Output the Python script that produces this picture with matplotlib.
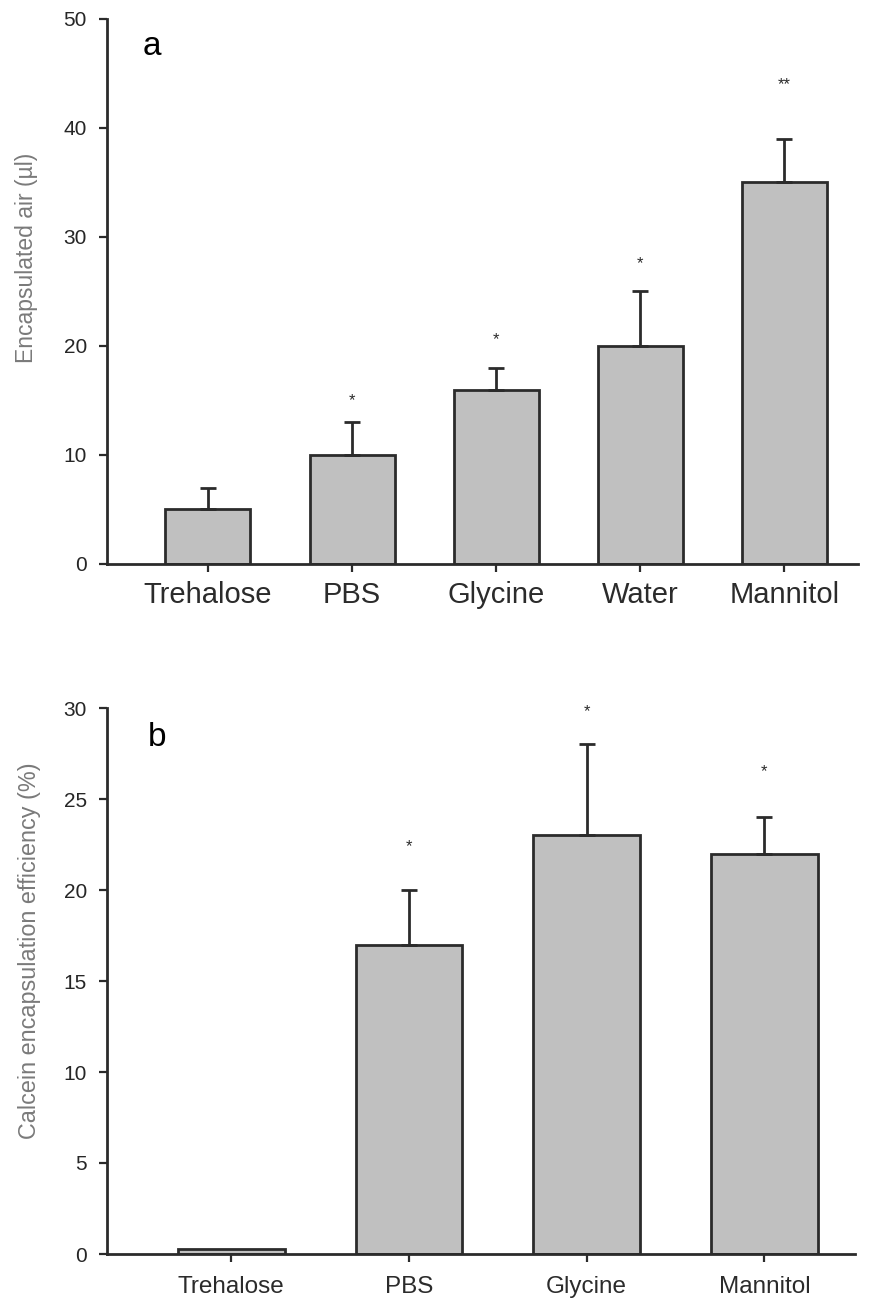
import numpy as np
import matplotlib
matplotlib.use('Agg')
import matplotlib.pyplot as plt

plt.rcParams['font.family'] = ['Liberation Sans', 'DejaVu Sans']

# panel a
cats_a = ['Trehalose', 'PBS', 'Glycine', 'Water', 'Mannitol']
vals_a = [5, 10, 16, 20, 35]
err_a = [2, 3, 2, 5, 4]
stars_a = ['', '*', '*', '*', '**']
star_y_a = [0, 15.0, 20.6, 27.6, 44.0]

# panel b
cats_b = ['Trehalose', 'PBS', 'Glycine', 'Mannitol']
vals_b = [0.3, 17, 23, 22]
err_b = [0, 3, 5, 2]
stars_b = ['', '*', '*', '*']
star_y_b = [0, 22.4, 29.8, 26.5]

ink = '#2b2b2b'
bar_fc = '#c0c0c0'

fig = plt.figure(figsize=(8.79, 13), dpi=100, facecolor='white')


def style_axes(ax):
    for s in ['top', 'right']:
        ax.spines[s].set_visible(False)
    for s in ['left', 'bottom']:
        ax.spines[s].set_linewidth(2)
        ax.spines[s].set_color(ink)
    ax.tick_params(axis='both', direction='out', length=6, width=1.6, color=ink)
    ax.tick_params(axis='y', labelsize=15, labelcolor='#262626', pad=8.5)


def draw_panel(ax, cats, vals, errs, stars, star_y, width):
    x = np.arange(len(cats))
    ax.bar(x, vals, width=width, color=bar_fc, edgecolor=ink, linewidth=2, zorder=2)
    for xi, v, e in zip(x, vals, errs):
        if e > 0:
            ax.errorbar(xi, v, yerr=[[0], [e]], fmt='none', ecolor=ink,
                        elinewidth=2, capsize=6, capthick=2, zorder=3)
    for xi, s, sy in zip(x, stars, star_y):
        if s:
            ax.text(xi, sy, s, ha='center', va='center', fontsize=12, color=ink)
    ax.set_xticks(x)
    style_axes(ax)


# top panel
ax1 = fig.add_axes([107 / 879, 1 - 564 / 1300, 751 / 879, 545 / 1300])
draw_panel(ax1, cats_a, vals_a, err_a, stars_a, star_y_a, 0.59)
ax1.set_xlim(-0.70, 4.51)
ax1.set_ylim(0, 50)
ax1.set_yticks([0, 10, 20, 30, 40, 50])
ax1.set_xticklabels(cats_a, fontsize=21, color=ink)
ax1.tick_params(axis='x', pad=6)
fig.text(27 / 879, 1 - 258 / 1300, 'Encapsulated air (\u00b5l)', rotation=90,
         ha='center', va='center', fontsize=16.5, color='#7a7a7a')
ax1.text(0.047, 47.5, 'a', transform=ax1.get_yaxis_transform(), fontsize=24,
         color='black', va='center')

# bottom panel
ax2 = fig.add_axes([107 / 879, 1 - 1254 / 1300, 748 / 879, 546 / 1300])
draw_panel(ax2, cats_b, vals_b, err_b, stars_b, star_y_b, 0.60)
ax2.set_xlim(-0.70, 3.51)
ax2.set_ylim(0, 30)
ax2.set_yticks([0, 5, 10, 15, 20, 25, 30])
ax2.set_xticklabels(cats_b, fontsize=17.5, color=ink)
ax2.tick_params(axis='x', pad=9.5)
fig.text(30 / 879, 1 - 951 / 1300, 'Calcein encapsulation efficiency (%)', rotation=90,
         ha='center', va='center', fontsize=16.8, color='#7a7a7a')
ax2.text(0.055, 28.4, 'b', transform=ax2.get_yaxis_transform(), fontsize=24,
         color='black', va='center')

fig.savefig('out.png', dpi=100, facecolor='white')
